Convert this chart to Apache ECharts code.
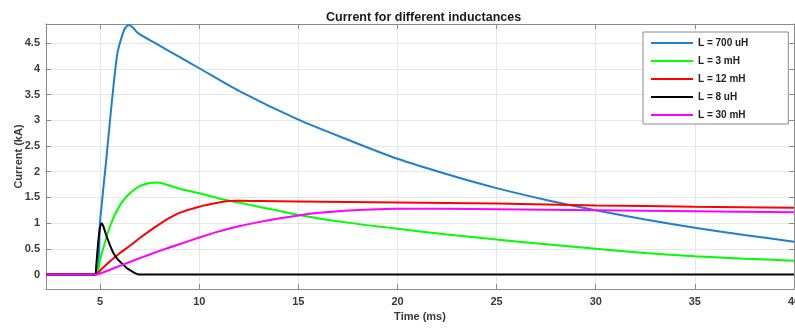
<!DOCTYPE html>
<html><head><meta charset="utf-8">
<script src="https://cdn.jsdelivr.net/npm/echarts@6/dist/echarts.min.js"></script>
<style>html,body{margin:0;padding:0;background:#fff}#c{width:795px;height:329px}</style>
</head><body><div id="c"></div>
<script>
const seriesNames = ['L = 700 uH', 'L = 3 mH', 'L = 12 mH', 'L = 8 uH', 'L = 30 mH'];
const seriesColors = ['#1f7fcf', '#00ff00', '#ff0000', '#000000', '#ff00ff'];

const t700 = [2.27, 4.75, 5.0, 5.3, 5.5, 5.67, 5.87, 6.09, 6.25, 6.46, 6.65, 6.84, 7.0, 8, 9, 10, 12, 15, 17.5, 20, 22.5, 25, 27.5, 30, 32.5, 35, 37.5, 40];
const i700 = [0, 0, 1.05, 2.2, 3.0, 3.65, 4.3, 4.62, 4.78, 4.85, 4.8, 4.72, 4.67, 4.45, 4.23, 4.01, 3.57, 3.01, 2.62, 2.25, 1.95, 1.68, 1.45, 1.25, 1.07, 0.91, 0.77, 0.64];

const t3m = [2.27, 4.78, 5.0, 5.5, 6.0, 6.5, 7.0, 7.5, 7.9, 8.5, 9, 10, 11, 12, 13, 15, 17.5, 20, 22.5, 25, 27.5, 30, 32.5, 35, 37.5, 40];
const i3m = [0, 0, 0.3, 0.94, 1.35, 1.58, 1.72, 1.78, 1.79, 1.73, 1.67, 1.58, 1.48, 1.4, 1.32, 1.16, 1.01, 0.89, 0.78, 0.68, 0.59, 0.5, 0.42, 0.355, 0.31, 0.27];

const t12m = [2.27, 4.78, 5.0, 5.5, 6, 6.5, 7, 7.5, 8, 8.5, 9, 10, 11, 11.5, 12, 13, 15, 20, 25, 30, 35, 40];
const i12m = [0, 0, 0.08, 0.26, 0.42, 0.56, 0.71, 0.85, 0.98, 1.1, 1.2, 1.32, 1.4, 1.43, 1.435, 1.43, 1.42, 1.4, 1.38, 1.345, 1.32, 1.3];

const t8u = [2.27, 4.75, 4.8, 4.87, 4.95, 5.02, 5.08, 5.15, 5.33, 5.5, 5.67, 5.9, 6.17, 6.4, 6.67, 6.85, 7.0, 40];
const i8u = [0, 0, 0.15, 0.48, 0.8, 0.96, 1.0, 0.95, 0.74, 0.57, 0.42, 0.29, 0.19, 0.11, 0.05, 0.015, 0, 0];

const t30m = [2.27, 4.8, 5, 6, 7, 8, 9, 10, 11, 12, 13, 14, 15, 16, 17, 18, 19, 20, 22.5, 25, 30, 35, 40];
const i30m = [0, 0, 0.02, 0.17, 0.32, 0.46, 0.59, 0.72, 0.84, 0.94, 1.02, 1.09, 1.15, 1.2, 1.23, 1.255, 1.27, 1.28, 1.28, 1.27, 1.25, 1.23, 1.21];

const seriesT = [t700, t3m, t12m, t8u, t30m];
const seriesI = [i700, i3m, i12m, i8u, i30m];

const FONT = 'Liberation Sans, Arial, sans-serif';
const chart = echarts.init(document.getElementById('c'), null, {renderer: 'canvas'});
const axisLineColor = '#8a8a8a';
const labelColor = '#3a3a3a';

const xBase = {
  type: 'value', min: 2.27, max: 40, splitNumber: 8, minInterval: 5, maxInterval: 5,
  axisLine: {show: true, onZero: false, lineStyle: {color: axisLineColor, width: 1}},
  axisTick: {show: true, inside: true, length: 5, lineStyle: {color: axisLineColor}},
};
const yBase = {
  type: 'value', min: -0.28, max: 4.87, splitNumber: 10, minInterval: 0.5, maxInterval: 0.5,
  axisLine: {show: true, onZero: false, lineStyle: {color: axisLineColor, width: 1}},
  axisTick: {show: true, inside: true, length: 5, lineStyle: {color: axisLineColor}},
};

chart.setOption({
  animation: false,
  backgroundColor: '#ffffff',
  title: {
    text: 'Current for different inductances', left: 321, top: 6,
    textStyle: {fontFamily: FONT, fontSize: 12.5, fontWeight: 'bold', color: '#1a1a1a'}
  },
  grid: {left: 46, right: 1, top: 24, bottom: 40, containLabel: false, outerBoundsMode: 'none'},
  legend: {
    orient: 'vertical', left: 643, top: 32,
    padding: [6, 40, 4, 7], itemGap: 8, itemWidth: 42, itemHeight: 10,
    backgroundColor: '#ffffff', borderColor: '#8a8a8a', borderWidth: 1,
    itemStyle: {opacity: 0},
    textStyle: {fontFamily: FONT, fontSize: 10, fontWeight: 'bold', color: '#222'},
    data: seriesNames
  },
  xAxis: [
    Object.assign({}, xBase, {
      position: 'bottom',
      name: 'Time (ms)', nameLocation: 'middle', nameGap: 22, nameMoveOverlap: false,
      nameTextStyle: {fontFamily: FONT, fontSize: 11, fontWeight: 'bold', color: labelColor},
      axisLabel: {show: true, showMinLabel: false, margin: 7, fontFamily: FONT, fontSize: 11, fontWeight: 'bold', color: labelColor},
      splitLine: {show: true, lineStyle: {color: '#e6e6e6', width: 1}}
    }),
    Object.assign({}, xBase, {
      position: 'top', axisLabel: {show: false}, splitLine: {show: false}
    })
  ],
  yAxis: [
    Object.assign({}, yBase, {
      position: 'left',
      name: 'Current (kA)', nameLocation: 'middle', nameGap: 22, nameMoveOverlap: false,
      nameTextStyle: {fontFamily: FONT, fontSize: 11, fontWeight: 'bold', color: labelColor},
      axisLabel: {show: true, showMinLabel: false, showMaxLabel: false, margin: 6, fontFamily: FONT, fontSize: 11, fontWeight: 'bold', color: labelColor},
      splitLine: {show: true, lineStyle: {color: '#e6e6e6', width: 1}}
    }),
    Object.assign({}, yBase, {
      position: 'right', axisLabel: {show: false}, splitLine: {show: false}
    })
  ],
  series: seriesNames.map((name, k) => ({
    name: name, type: 'line', xAxisIndex: 0, yAxisIndex: 0,
    symbol: 'none', smooth: 0.25,
    lineStyle: {color: seriesColors[k], width: 2},
    itemStyle: {color: seriesColors[k]},
    data: seriesT[k].map((t, j) => [t, seriesI[k][j]])
  }))
});
</script>
</body></html>
